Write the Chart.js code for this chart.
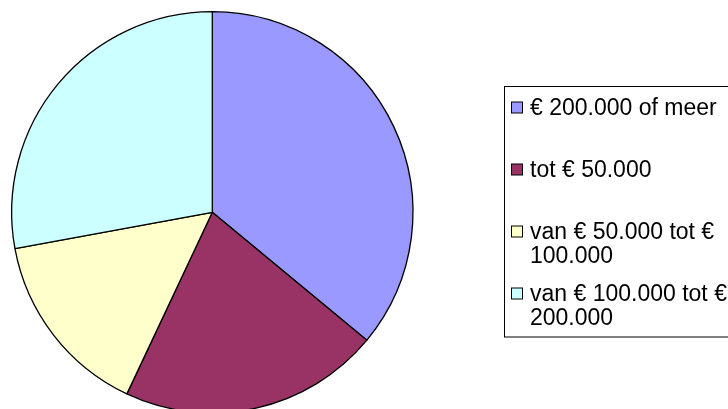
<!DOCTYPE html>
<html>
<head>
<meta charset="utf-8">
<script src="https://cdn.jsdelivr.net/npm/chart.js@4/dist/chart.umd.min.js"></script>
<style>
  html, body { margin: 0; padding: 0; background: #fff; overflow: hidden; }
  #wrap { position: absolute; left: 0; top: 0; width: 728px; height: 425px; }
</style>
</head>
<body>
<div id="wrap"><canvas id="c"></canvas></div>
<script>
const categories = ['€ 200.000 of meer', 'tot € 50.000', 'van € 50.000 tot € 100.000', 'van € 100.000 tot € 200.000'];
const shares = [36.0, 21.0, 15.1, 27.9];
const colors = ['#9999FF', '#993366', '#FFFFCC', '#CCFFFF'];

const FONT = '23px "Liberation Sans", Arial, sans-serif';

function wrapText(ctx, text, maxW) {
  const words = text.split(' ');
  const lines = [];
  let cur = '';
  for (const w of words) {
    const t = cur ? cur + ' ' + w : w;
    if (ctx.measureText(t).width > maxW && cur) { lines.push(cur); cur = w; }
    else cur = t;
  }
  if (cur) lines.push(cur);
  return lines;
}

const legendPlugin = {
  id: 'boxLegend',
  afterDraw(chart) {
    const ctx = chart.ctx;
    ctx.save();
    ctx.lineWidth = 1;
    ctx.strokeStyle = '#000';
    ctx.strokeRect(504.5, 86.5, 300, 250.5);
    ctx.font = FONT;
    ctx.textBaseline = 'middle';
    ctx.textAlign = 'left';
    const labels = chart.data.labels;
    const bg = chart.data.datasets[0].backgroundColor;
    labels.forEach((lab, i) => {
      const y = 107.5 + i * 62;
      ctx.fillStyle = bg[i];
      ctx.fillRect(511.5, y - 5.5, 11, 11);
      ctx.strokeStyle = '#000';
      ctx.strokeRect(511.5, y - 5.5, 11, 11);
      ctx.fillStyle = '#000';
      const lines = wrapText(ctx, lab, 200);
      lines.forEach((ln, k) => ctx.fillText(ln, 530, y + 1 + k * 24.5));
    });
    ctx.restore();
  }
};

new Chart(document.getElementById('c'), {
  type: 'pie',
  data: {
    labels: categories,
    datasets: [{
      data: shares,
      backgroundColor: colors,
      borderColor: '#000',
      borderWidth: 1.3
    }]
  },
  options: {
    responsive: true,
    maintainAspectRatio: false,
    animation: false,
    layout: { padding: { left: 11, top: 11, right: 314.4, bottom: 11.4 } },
    plugins: {
      legend: { display: false },
      tooltip: { enabled: false },
      title: { display: false }
    }
  },
  plugins: [legendPlugin]
});
</script>
</body>
</html>
